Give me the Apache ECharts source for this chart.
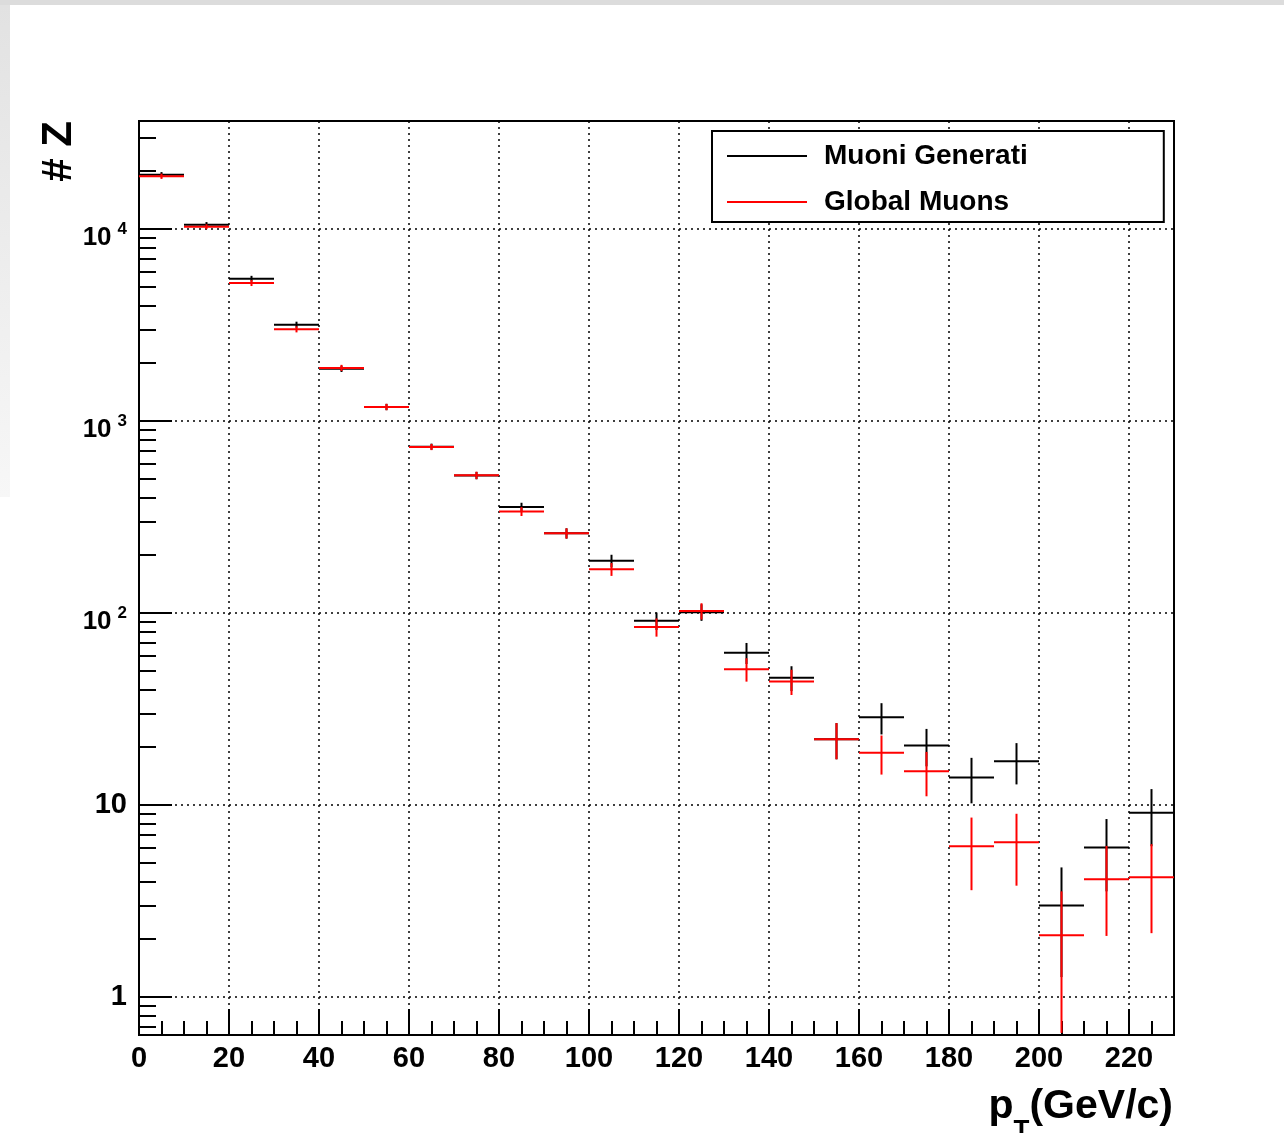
<!DOCTYPE html>
<html><head><meta charset="utf-8">
<script src="https://cdn.jsdelivr.net/npm/echarts@6/dist/echarts.min.js"></script>
<style>html,body{margin:0;padding:0;background:#fff}#c{width:1284px;height:1133px}</style>
</head><body><div id="c"></div><script>
// ---- data ----
const binCenters = [5,15,25,35,45,55,65,75,85,95,105,115,125,135,145,155,165,175,185,195,205,215,225];
const binHalfWidth = 5;
const genValues = [19180,10530,5510,3174,1870,1183,735,520,356,260,187,91,101,62,46,22,28.6,20.4,13.9,16.9,3.0,6.0,9.1];
const genErrors = [600,330,190,115,70,45,27,23,19,16,14,9.5,10,7.8,6.8,4.7,5.3,4.5,3.7,4.1,1.73,2.45,3.0];
const glbValues = [18820,10280,5234,3003,1890,1183,732,521,338,260,169,84.5,102.4,51,44,22,18.7,15,6.1,6.4,2.1,4.1,4.2];
const glbErrors = [600,300,190,110,70,45,27,23,18,16,13,9.2,10,7.1,6.6,4.7,4.3,3.9,2.5,2.6,1.45,2.02,2.05];
const seriesNames = ['Muoni Generati','Global Muons'];
const xMajorTicks = [0,20,40,60,80,100,120,140,160,180,200,220];
const xMinorTicks = [5,10,15,25,30,35,45,50,55,65,70,75,85,90,95,105,110,115,125,130,135,145,150,155,165,170,175,185,190,195,205,210,215,225];
const yTickValues = [1,10,100,1000,10000];
const yTickLabels = ['1','10','10^2','10^3','10^4'];
const yMinorTicks = [0.7,0.8,0.9,2,3,4,5,6,7,8,9,20,30,40,50,60,70,80,90,200,300,400,500,600,700,800,900,2000,3000,4000,5000,6000,7000,8000,9000,20000,30000];
const xTitle = 'p{s|T}(GeV/c)';
const yTitle = '# Z';

const FONT = '"Liberation Sans", Arial, Helvetica, sans-serif';
const X0 = 139, Y0 = 121, W = 1035, H = 914;

function renderItem(params, api) {
  const x = api.value(0), y = api.value(1), e = api.value(2);
  const l = api.coord([x - binHalfWidth, y]);
  const r = api.coord([x + binHalfWidth, y]);
  const t = api.coord([x, y + e]);
  const b = api.coord([x, Math.max(y - e, 1e-3)]);
  const style = { stroke: api.visual('color'), lineWidth: 2 };
  return { type: 'group', children: [
    { type: 'line', shape: { x1: l[0], y1: l[1], x2: r[0], y2: r[1] }, style: style },
    { type: 'line', shape: { x1: t[0], y1: t[1], x2: b[0], y2: b[1] }, style: style }
  ]};
}

function yLabel(v) {
  const exp = Math.round(Math.log10(v));
  const s = yTickLabels[yTickValues.indexOf(Math.pow(10, exp))] || '';
  if (s.indexOf('^') >= 0) { const p = s.split('^'); return '{b|' + p[0] + '}{s|' + p[1] + '}'; }
  return '{n|' + s + '}';
}

const chart = echarts.init(document.getElementById('c'), null, { renderer: 'canvas' });
const yMin = 0.634, yMax = 36500;
chart.setOption({
  animation: false,
  backgroundColor: '#fff',
  grid: { left: X0, top: Y0, width: W, height: H, show: true, borderColor: '#000', borderWidth: 2, backgroundColor: 'transparent', containLabel: false },
  legend: {
    orient: 'vertical', left: 712, top: 131, padding: [10, 136, 5, 15], itemGap: 16,
    itemWidth: 80, itemHeight: 2, icon: 'rect', selectedMode: false,
    backgroundColor: '#fff', borderColor: '#000', borderWidth: 2, borderRadius: 0,
    textStyle: { fontFamily: FONT, fontWeight: 'bold', fontSize: 28, color: '#000', lineHeight: 30, padding: [0, 0, 0, 12] },
    data: seriesNames
  },
  xAxis: [
    { type: 'value', min: 0, max: 230, interval: 20, position: 'bottom',
      axisLine: { show: true, onZero: false, lineStyle: { color: '#000', width: 2 } },
      axisTick: { show: true, inside: true, length: 26, customValues: xMajorTicks, lineStyle: { color: '#000', width: 2 } },
      axisLabel: { show: true, customValues: xMajorTicks, margin: 9, color: '#000', fontFamily: FONT, fontWeight: 'bold', fontSize: 29 },
      splitLine: { show: true, lineStyle: { color: '#000', width: 1.5, type: [2, 4] } },
      minorTick: { show: false } },
    { type: 'value', min: 0, max: 230, interval: 20, position: 'bottom',
      axisLine: { show: false }, axisLabel: { show: false }, splitLine: { show: false },
      axisTick: { show: true, inside: true, length: 14, customValues: xMinorTicks, lineStyle: { color: '#000', width: 2 } } }
  ],
  yAxis: [
    { type: 'log', logBase: 10, min: yMin, max: yMax, position: 'left',
      axisLine: { show: true, lineStyle: { color: '#000', width: 2 } },
      axisTick: { show: true, inside: true, length: 33, customValues: yTickValues, lineStyle: { color: '#000', width: 2 } },
      axisLabel: { show: true, customValues: yTickValues, margin: 12, formatter: yLabel, color: '#000',
        rich: {
          n: { fontFamily: FONT, fontWeight: 'bold', fontSize: 29, color: '#000' },
          b: { fontFamily: FONT, fontWeight: 'bold', fontSize: 26, lineHeight: 26, padding: [17, 0, 0, 0], color: '#000' },
          s: { fontFamily: FONT, fontWeight: 'bold', fontSize: 17, lineHeight: 17, padding: [13, 0, 13, 6], color: '#000' }
        } },
      splitLine: { show: true, lineStyle: { color: '#000', width: 1.5, type: [2, 4] } } },
    { type: 'log', logBase: 10, min: yMin, max: yMax, position: 'left',
      axisLine: { show: false }, axisLabel: { show: false }, splitLine: { show: false },
      axisTick: { show: true, inside: true, length: 17, customValues: yMinorTicks, lineStyle: { color: '#000', width: 2 } } }
  ],
  series: [
    { name: seriesNames[0], type: 'custom', renderItem: renderItem, clip: true, xAxisIndex: 0, yAxisIndex: 0,
      itemStyle: { color: '#000000' }, encode: { x: 0, y: 1 }, z: 3,
      data: binCenters.map((c, i) => [c, genValues[i], genErrors[i]]) },
    { name: seriesNames[1], type: 'custom', renderItem: renderItem, clip: true, xAxisIndex: 0, yAxisIndex: 0,
      itemStyle: { color: '#ff0000' }, encode: { x: 0, y: 1 }, z: 4,
      data: binCenters.map((c, i) => [c, glbValues[i], glbErrors[i]]) }
  ],
  graphic: [
    { type: 'rect', z: -10, shape: { x: 0, y: 0, width: 1284, height: 5 }, style: { fill: '#dcdcdc' } },
    { type: 'rect', z: -10, shape: { x: 0, y: 5, width: 10, height: 492 },
      style: { fill: new echarts.graphic.LinearGradient(0, 0, 0, 1, [{ offset: 0, color: '#e2e2e2' }, { offset: 1, color: '#f7f7f7' }]) } },
    { type: 'text', x: 59, y: 121, rotation: Math.PI / 2,
      style: { text: yTitle, fill: '#000', font: 'bold 42px ' + FONT, align: 'right', verticalAlign: 'middle' } },
    { type: 'text', x: 1173, y: 1107,
      style: { text: xTitle.replace(/^p/, '{m|p}').replace('(GeV/c)', '{m|(GeV/c)}'), fill: '#000', align: 'right', verticalAlign: 'middle',
        rich: {
          m: { fontFamily: FONT, fontWeight: 'bold', fontSize: 41, lineHeight: 41, verticalAlign: 'top', fill: '#000' },
          s: { fontFamily: FONT, fontWeight: 'bold', fontSize: 26, lineHeight: 26, padding: [31, 0, 0, 0], verticalAlign: 'top', fill: '#000' }
        } } }
  ]
});
</script></body></html>
